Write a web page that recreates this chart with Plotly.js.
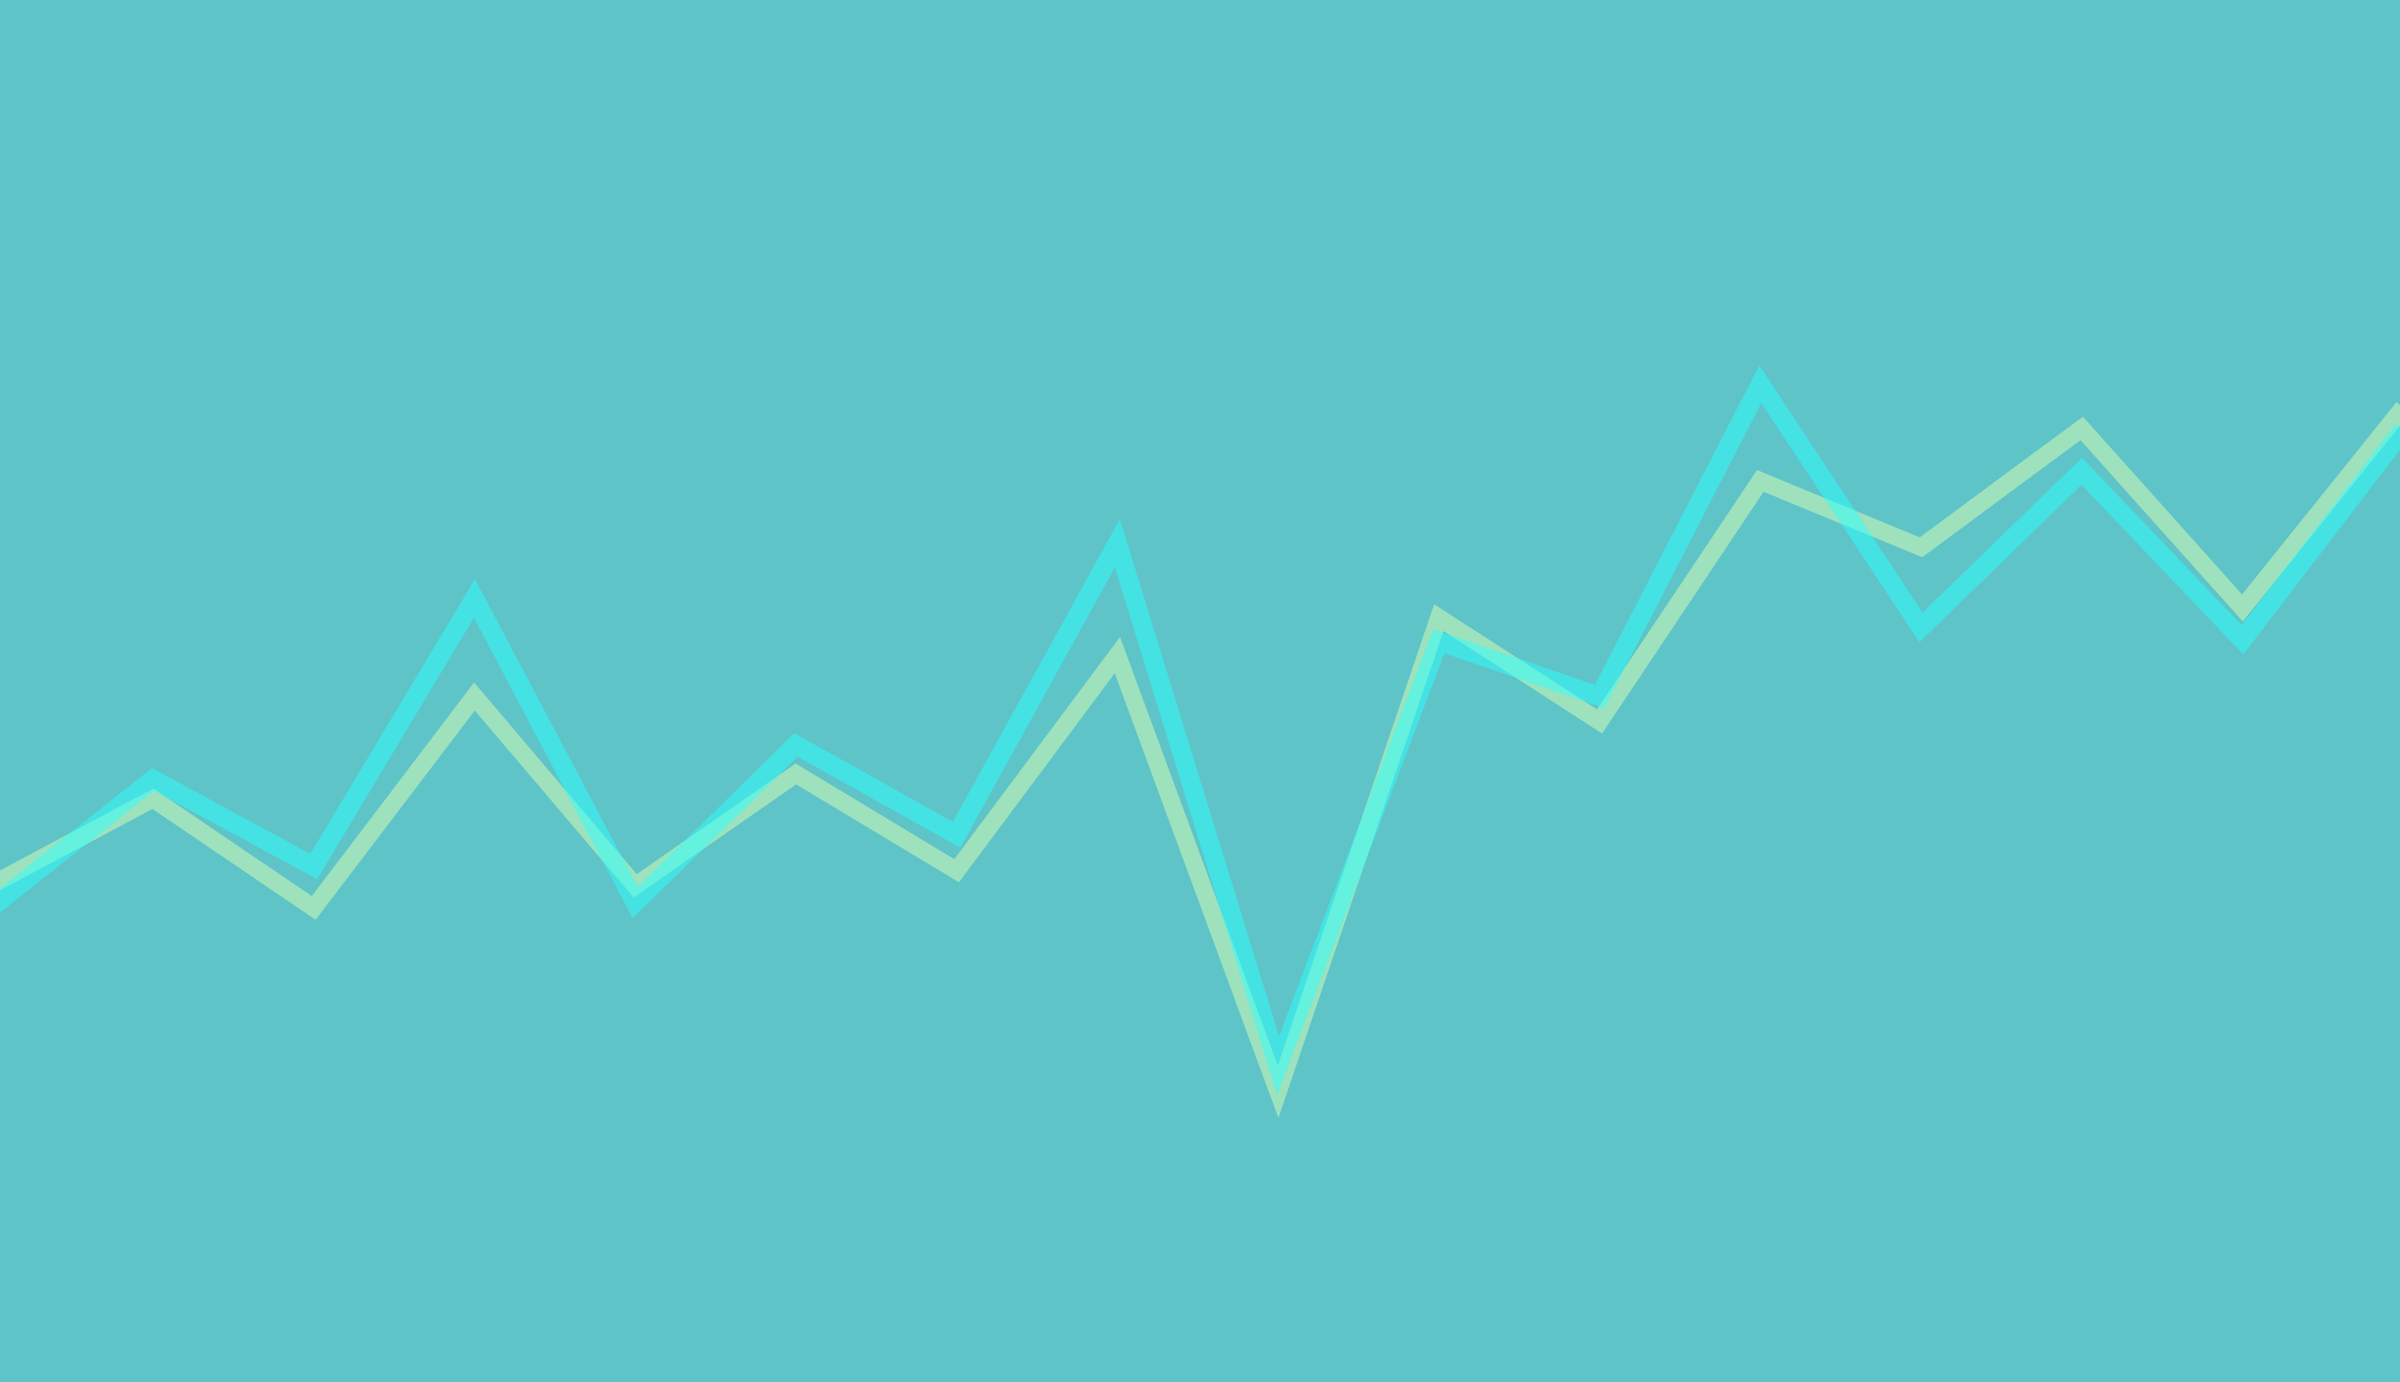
<!DOCTYPE html>
<html>
<head>
<meta charset="utf-8">
<script src="https://cdn.plot.ly/plotly-3.0.1.min.js"></script>
<style>
  html, body { margin: 0; padding: 0; background: #5fc4c8; }
  #chart { width: 2400px; height: 1382px; }
  /* sharp corners like the original */
  #chart path.js-line { stroke-linejoin: miter !important; stroke-miterlimit: 10 !important; }
</style>
</head>
<body>
<div id="chart"></div>
<script>
    // x positions: 16 evenly spaced steps; the view cuts a sliver off both ends
    const steps = [0, 1, 2, 3, 4, 5, 6, 7, 8, 9, 10, 11, 12, 13, 14, 15];

    // values (0-100 scale, bottom to top)
    const cyanValues = [34.4, 43.6, 37.3, 56.7, 34.7, 46.1, 39.6, 60.7, 22.9, 53.6, 49.6, 72.2, 54.6, 65.9, 53.7, 68.9];
    const mintValues = [36.0, 42.2, 34.3, 49.6, 35.9, 44.0, 37.0, 52.6, 21.0, 55.3, 47.8, 65.2, 60.4, 69.0, 56.0, 70.5];

    const BG = "#5fc4c8";

    const traces = [
        {
            x: steps, y: mintValues, mode: "lines", name: "mint",
            line: { color: "#9de2bd", width: 17.5 },
            hoverinfo: "skip",
        },
        {
            x: steps, y: cyanValues, mode: "lines", name: "cyan",
            line: { color: "#2bffff", width: 19 },
            opacity: 0.5,
            hoverinfo: "skip",
        },
    ];

    const layout = {
        width: 2400,
        height: 1382,
        margin: { t: 0, r: 0, b: 0, l: 0 },
        paper_bgcolor: BG,
        plot_bgcolor: BG,
        showlegend: false,
        xaxis: { range: [0.048, 14.98], visible: false, fixedrange: true },
        yaxis: { range: [0, 100], visible: false, fixedrange: true },
    };

    Plotly.newPlot("chart", traces, layout, { displayModeBar: false, staticPlot: true });
</script>
</body>
</html>
